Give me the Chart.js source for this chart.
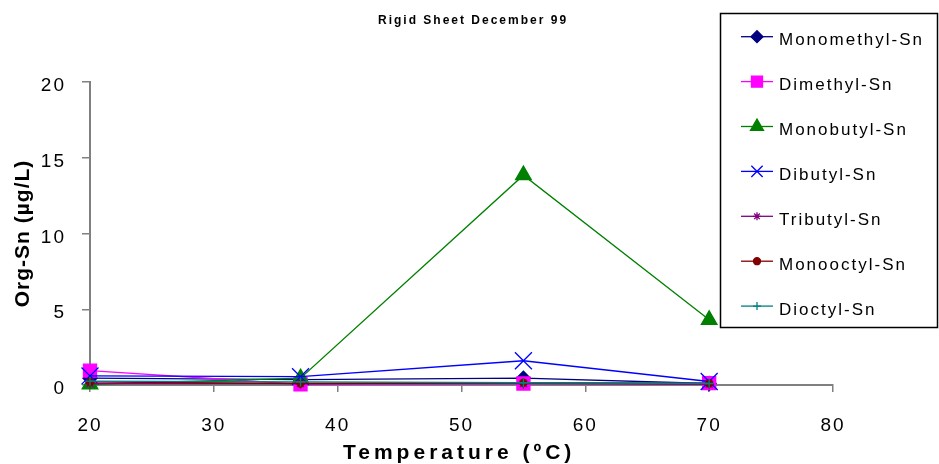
<!DOCTYPE html>
<html>
<head>
    <meta charset="utf-8">
    <title>Rigid Sheet December 99</title>
    <script src="https://cdn.jsdelivr.net/npm/chart.js"></script>
    <style>
        body {
            margin: 0;
            background: #ffffff;
        }
        #chart {
            display: block;
        }
    </style>
</head>
<body>
<canvas id="chart" width="939" height="464"></canvas>

<script>
    // Temperatures (ºC) and organotin concentrations (µg/L)
    var temperatures = [20, 37, 55, 70];
    var monomethylSn = [0.45, 0.35, 0.45, 0.1];
    var dimethylSn   = [0.95, 0.05, 0.1, 0.12];
    var monobutylSn  = [0.05, 0.45, 13.85, 4.3];
    var dibutylSn    = [0.6, 0.55, 1.6, 0.23];
    var tributylSn   = [0.1, 0.1, 0.1, 0.05];
    var monooctylSn  = [0.2, 0.1, 0.15, 0.1];
    var dioctylSn    = [0.25, 0.2, 0.15, 0.1];

    var xTicks = [20, 30, 40, 50, 60, 70, 80];
    var yTicks = [0, 5, 10, 15, 20];

    var seriesNames = ['Monomethyl-Sn', 'Dimethyl-Sn', 'Monobutyl-Sn', 'Dibutyl-Sn',
                       'Tributyl-Sn', 'Monooctyl-Sn', 'Dioctyl-Sn'];
    var seriesValues = [monomethylSn, dimethylSn, monobutylSn, dibutylSn,
                        tributylSn, monooctylSn, dioctylSn];

    var FONT = "'Liberation Sans', Arial, sans-serif";

    // marker look for each series: chart size and legend size
    var styles = [
        { color: '#000080', point: 'rectRot',  radius: 7,   legendRadius: 6 },
        { color: '#ff00ff', point: 'rect',     radius: 9.2, legendRadius: 7.8 },
        { color: '#008000', point: 'triangle', radius: 9,   legendRadius: 7.5 },
        { color: '#0000ff', point: 'crossRot', radius: 12,  legendRadius: 8 },
        { color: '#800080', point: 'star',     radius: 5,   legendRadius: 4 },
        { color: '#800000', point: 'circle',   radius: 3.5, legendRadius: 3.5 },
        { color: '#008080', point: 'cross',    radius: 4.5, legendRadius: 4 }
    ];

    var datasets = seriesNames.map(function (name, i) {
        var s = styles[i];
        return {
            label: name,
            data: temperatures.map(function (t, j) { return { x: t, y: seriesValues[i][j] }; }),
            borderColor: s.color,
            borderWidth: 1.3,
            pointStyle: s.point,
            pointRadius: s.radius,
            pointBackgroundColor: s.color,
            pointBorderColor: s.color,
            pointBorderWidth: 1.3,
            fill: false,
            tension: 0,
            clip: false,
            order: seriesNames.length - i // later series drawn on top
        };
    });

    // tick text spacing
    var spacingPlugin = {
        id: 'spacing',
        beforeDraw: function (chart) {
            chart.ctx.letterSpacing = '2px';
        }
    };

    // chart title and axis titles
    var titlesPlugin = {
        id: 'titles',
        afterDraw: function (chart) {
            var ctx = chart.ctx;
            ctx.save();
            ctx.fillStyle = '#000000';
            ctx.textBaseline = 'alphabetic';
            ctx.textAlign = 'left';

            ctx.letterSpacing = '2px';
            ctx.font = 'bold 12px ' + FONT;
            ctx.fillText('Rigid Sheet December 99', 378, 24);

            ctx.letterSpacing = '4px';
            ctx.font = 'bold 21px ' + FONT;
            ctx.fillText('Temperature (ºC)', 343, 459);

            ctx.letterSpacing = '1px';
            ctx.translate(28.5, 233.5);
            ctx.rotate(-Math.PI / 2);
            ctx.textAlign = 'center';
            ctx.fillText('Org-Sn (µg/L)', 0, 0);
            ctx.restore();
        }
    };

    // boxed legend at the right
    var legendPlugin = {
        id: 'boxLegend',
        afterDraw: function (chart) {
            var ctx = chart.ctx;
            ctx.save();
            ctx.fillStyle = '#ffffff';
            ctx.fillRect(720, 13, 218, 314);
            ctx.strokeStyle = '#000000';
            ctx.lineWidth = 1.5;
            ctx.strokeRect(720.5, 13.5, 217, 314);

            ctx.font = '17px ' + FONT;
            ctx.letterSpacing = '2px';
            ctx.textAlign = 'left';
            ctx.textBaseline = 'middle';

            seriesNames.forEach(function (name, i) {
                var s = styles[i];
                var y = 36.7 + i * 44.9;
                ctx.strokeStyle = s.color;
                ctx.lineWidth = 1.3;
                ctx.beginPath();
                ctx.moveTo(741, y);
                ctx.lineTo(773, y);
                ctx.stroke();

                ctx.fillStyle = s.color;
                ctx.strokeStyle = s.color;
                Chart.helpers.drawPoint(ctx, {
                    pointStyle: s.point,
                    radius: s.legendRadius,
                    rotation: 0,
                    borderWidth: 1.3
                }, 757, y);

                ctx.fillStyle = '#000000';
                ctx.fillText(name, 779, y + 4);
            });
            ctx.restore();
        }
    };

    var ctx = document.getElementById('chart').getContext('2d');
    var chart = new Chart(ctx, {
        type: 'line',
        data: { datasets: datasets },
        options: {
            responsive: false,
            devicePixelRatio: 1,
            animation: false,
            layout: { padding: { top: 82, right: 106, left: 0, bottom: 0 } },
            plugins: {
                legend: { display: false },
                tooltip: { enabled: false },
                title: { display: false }
            },
            scales: {
                x: {
                    type: 'linear',
                    min: 20,
                    max: 80,
                    afterBuildTicks: function (scale) {
                        scale.ticks = xTicks.map(function (v) { return { value: v }; });
                    },
                    ticks: {
                        color: '#000000',
                        font: { family: FONT, size: 19 },
                        padding: 22,
                        maxRotation: 0
                    },
                    grid: {
                        drawOnChartArea: false,
                        drawTicks: true,
                        tickLength: 7,
                        color: '#808080',
                        lineWidth: 1.5
                    },
                    border: { color: '#808080', width: 2 },
                    afterFit: function (scale) { scale.height = 79; }
                },
                y: {
                    min: 0,
                    max: 20,
                    afterBuildTicks: function (scale) {
                        scale.ticks = yTicks.map(function (v) { return { value: v }; });
                    },
                    ticks: {
                        color: '#000000',
                        font: { family: FONT, size: 19 },
                        padding: 16,
                        labelOffset: 4
                    },
                    grid: {
                        drawOnChartArea: false,
                        drawTicks: true,
                        tickLength: 8,
                        color: '#808080',
                        lineWidth: 1.5
                    },
                    border: { color: '#808080', width: 2 },
                    afterFit: function (scale) { scale.width = 90; }
                }
            }
        },
        plugins: [spacingPlugin, titlesPlugin, legendPlugin]
    });
</script>
</body>
</html>
